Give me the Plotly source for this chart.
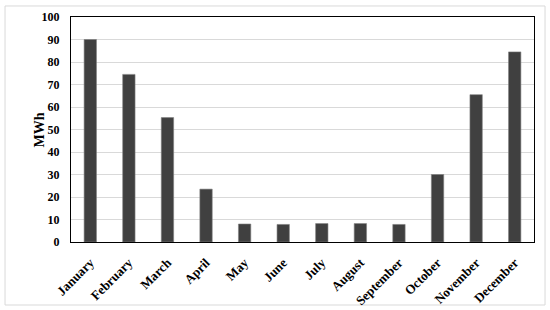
import plotly.graph_objects as go

months = ["January", "February", "March", "April", "May", "June", "July",
          "August", "September", "October", "November", "December"]
energy_mwh = [90, 74.5, 55.3, 23.5, 8, 7.8, 8.2, 8.2, 7.8, 30, 65.5, 84.5]
y_ticks = list(range(0, 101, 10))

serif = "Liberation Serif, DejaVu Serif, serif"

fig = go.Figure()
fig.add_trace(go.Bar(
    x=months, y=energy_mwh,
    marker=dict(color="#404040", line=dict(color="#7f7f7f", width=0.6)),
    width=0.32,
))

fig.update_layout(
    width=550, height=310,
    margin=dict(l=71, r=16, t=17, b=68, autoexpand=False),
    paper_bgcolor="white", plot_bgcolor="white",
    font=dict(family=serif, size=11, color="black"),
    showlegend=False,
)
fig.update_xaxes(
    tickangle=-45, tickfont=dict(family=serif, size=13, weight="bold"),
    showline=True, linecolor="black", linewidth=1, mirror=True,
    ticks="", showgrid=False, automargin=False, ticklabelstandoff=7,
)
fig.update_yaxes(
    range=[0, 100], tickvals=y_ticks,
    tickfont=dict(family=serif, size=12, weight="bold"),
    showline=True, linecolor="black", linewidth=1, mirror=True,
    gridcolor="#d9d9d9", gridwidth=1, ticks="", zeroline=False,
    automargin=False, ticklabelstandoff=8,
)

# y-axis title placed by hand so it sits close to the tick labels
fig.add_annotation(text="<b>MWh</b>", xref="paper", yref="paper",
                   x=-0.067, y=0.5, xanchor="center", yanchor="middle",
                   textangle=-90, showarrow=False,
                   font=dict(family=serif, size=14))

# light frame around the whole chart
fig.add_shape(type="rect", xref="paper", yref="paper",
              x0=-0.1425, x1=1.0238, y0=-0.28, y1=1.049,
              line=dict(color="#d9d9d9", width=1), layer="below")

# drop the browser's default body margin so the figure sits at 0,0
fig.write_html("out.html", config={"displayModeBar": False},
               post_script="document.body.style.margin='0';")
